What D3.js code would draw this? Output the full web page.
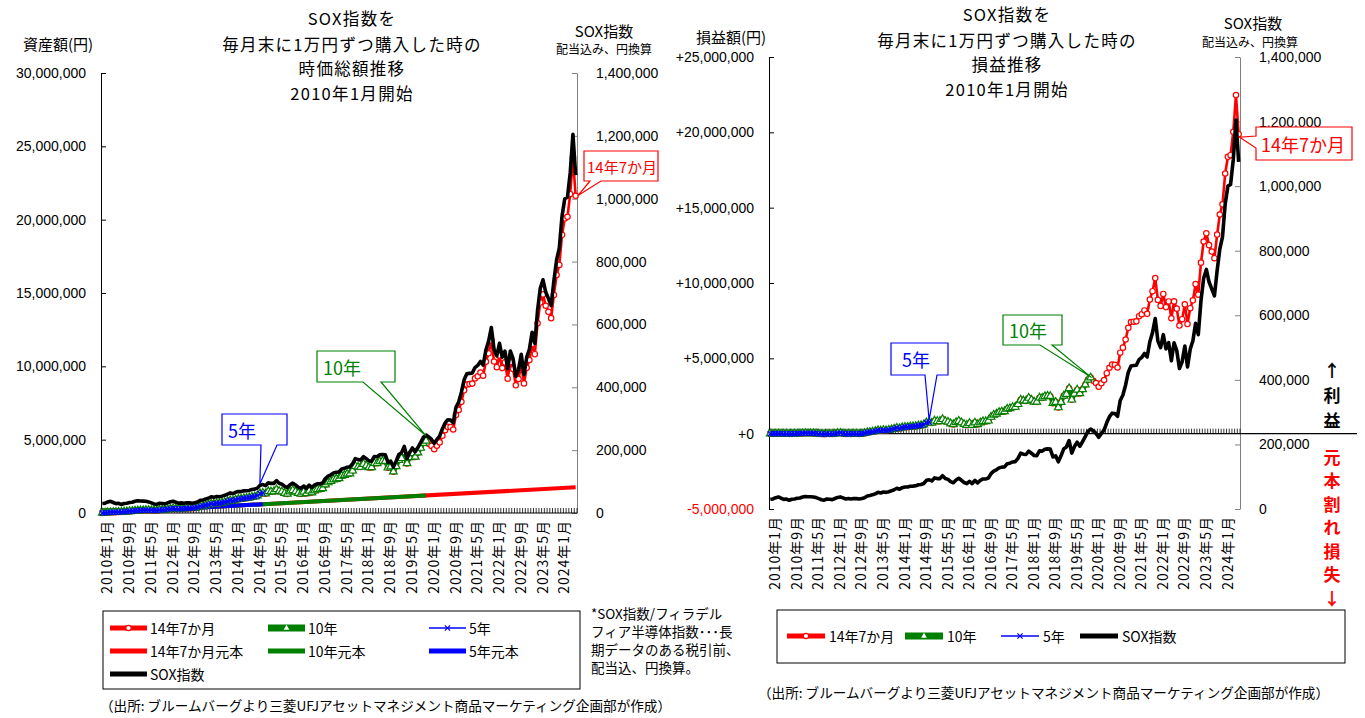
<!DOCTYPE html>
<html><head><meta charset="utf-8">
<script src="https://cdn.jsdelivr.net/npm/d3@7"></script>
<style>
body{margin:0;background:#fff;}
svg{display:block;}
</style></head><body>
<svg id="c" width="1365" height="718"></svg>
<script>
// ---------------- DATA (values in thousand yen, 千円) ----------------
// SOX index (dividends included, yen-converted), monthly 2010-01 .. 2024-07
const soxIndex = [
 30.0,31.2,35.2,37.3,33.4,29.9,30.9,27.0,30.3,31.0,33.2,34.1,
 37.2,38.8,38.1,37.8,37.4,35.3,32.1,28.8,27.4,31.0,30.0,29.0,
 32.4,35.8,37.4,34.4,31.1,32.3,31.0,32.5,32.1,31.2,32.7,35.1,
 40.4,41.6,44.4,46.9,51.6,49.8,52.4,51.5,53.6,56.3,59.7,64.2,
 61.1,66.1,68.1,68.0,70.5,70.8,71.8,75.0,76.0,79.1,88.7,90.4,
 86.9,96.4,94.2,94.2,102.9,94.6,91.7,84.8,81.2,89.8,95.1,89.0,
 82.1,78.4,85.9,78.8,88.3,81.2,88.5,93.1,93.1,95.6,109.6,117.3,
 121.4,127.4,129.7,130.5,140.0,142.0,145.8,146.7,156.6,172.8,169.8,168.8,
 179.3,172.7,165.7,165.2,180.0,179.2,185.1,186.2,185.4,161.2,164.8,146.2,
 164.7,186.2,192.1,212.0,173.1,193.5,206.9,194.5,208.4,224.0,240.5,247.8,
 242.0,234.1,222.0,234.0,244.6,267.6,286.0,296.8,295.7,286.9,336.3,353.2,
 384.3,423.7,442.9,444.2,445.4,462.8,469.5,482.0,470.7,518.3,546.3,590,
 520,500,540,496,515,459,515,491,435,456,505,440,
 495,521,575,540,645,715,742,703,682,660,738,805,
 843,945,1000,1005,1082,1205,1075];

// Market value of the monthly 10,000-yen purchases (時価総額)
const marketValue = [
 10,20,33,45,50,55,67,68,87,99,116,129,
 151,167,174,183,191,190,183,174,176,209,212,215,
 250,286,309,294,276,297,295,319,325,326,352,388,
 456,480,522,561,627,616,658,656,693,738,793,862,
 831,909,946,955,1000,1014,1039,1095,1119,1175,1328,1363,
 1320,1475,1451,1461,1606,1486,1451,1352,1304,1453,1548,1459,
 1356,1305,1440,1331,1501,1390,1525,1615,1625,1678,1934,2080,
 2163,2279,2331,2355,2536,2583,2662,2688,2880,3187,3142,3134,
 3338,3226,3105,3105,3394,3389,3510,3541,3536,3084,3163,2816,
 3183,3608,3732,4129,3381,3790,4062,3829,4112,4430,4767,4921,
 4720,4576,4349,4593,4812,5273,5646,5869,5857,5693,6683,7029,
 7579,8365,8754,8790,8823,9177,9320,9578,9363,10320,10887,11767,
 10327,9940,10744,9879,10267,9160,10288,9818,8707,9138,10130,8835,
 9898,10427,11517,10826,12941,14355,14906,14132,13719,13286,14867,16226,
 16913,18969,20083,20193,21749,24231,21626];

// Profit / loss (損益)
const profitLoss = [
 0,0,3,5,0,-5,-3,-12,-3,-1,6,9,
 21,27,24,23,21,10,-7,-26,-34,-11,-18,-25,
 0,26,39,14,-14,-3,-15,-1,-5,-14,2,28,
 86,100,132,161,217,196,228,216,243,278,323,382,
 341,409,436,435,470,474,489,535,549,595,738,763,
 710,855,821,821,956,826,781,672,614,753,838,739,
 626,565,690,571,731,610,735,815,815,858,1104,1240,
 1313,1419,1461,1475,1646,1683,1752,1768,1950,2247,2192,2174,
 2368,2246,2115,2105,2384,2369,2480,2501,2486,2024,2093,1736,
 2093,2508,2622,3009,2251,2650,2912,2669,2942,3250,3577,3721,
 3510,3356,3119,3353,3562,4013,4376,4589,4567,4393,5373,5709,
 6249,7025,7404,7430,7453,7797,7930,8178,7953,8900,9457,10327,
 8877,8480,9274,8399,8777,7660,8778,8298,7177,7598,8580,7275,
 8328,8847,9927,9226,11351,12755,13296,12512,12089,11646,13217,14546,
 15223,17269,18373,18483,20039,22471,19876];

// month index spans of each holding period
const span14y7m = [0, 174];
const span10y = [0, 119];
const span5y = [0, 59];
// principal (元本) at start / end of each span, thousand yen
const principal14y7m = [10, 1750];
const principal10y = [10, 1200];
const principal5y = [10, 600];

const tickLabels = ["2010年1月","2010年9月","2011年5月","2012年1月","2012年9月","2013年5月",
 "2014年1月","2014年9月","2015年5月","2016年1月","2016年9月","2017年5月","2018年1月",
 "2018年9月","2019年5月","2020年1月","2020年9月","2021年5月","2022年1月","2022年9月",
 "2023年5月","2024年1月"];
const assetTicks = [0,5000,10000,15000,20000,25000,30000];
const profitTicks = [-5000,0,5000,10000,15000,20000,25000];
const soxTicks = [0,200,400,600,800,1000,1200,1400];

const categories = [];
for (let y = 2010; y <= 2024; y++) for (let m = 1; m <= 12; m++)
  if (categories.length < soxIndex.length) categories.push(`${y}年${m}月`);

// ---------------- DRAWING ----------------
const JP = '"Noto Sans CJK JP","Noto Sans",sans-serif';
const NUM = '"Liberation Sans",Arial,sans-serif';
const RED = "#ff0000", GREEN = "#008000", BLUE = "#0000ff", GREY = "#808080";
const svg = d3.select("#c");
const fmt = d3.format(",");

function txt(g, x, y, s, o = {}) {
  return g.append("text").attr("x", x).attr("y", y).text(s)
    .attr("font-family", o.ff || JP).attr("font-size", o.fs || 14)
    .attr("fill", o.fill || "#000").attr("text-anchor", o.anchor || "middle")
    .attr("font-weight", o.fw || "normal")
    .attr("letter-spacing", o.ls || 0)
    .attr("dominant-baseline", "central");
}

function markerPath(kind) {
  if (kind === "tri") return d3.symbol(d3.symbolTriangle, 26)();
  return "M-2.6,-2.6L2.6,2.6M-2.6,2.6L2.6,-2.6";
}

function drawValueSeries(g, xc, y, vals, span, st) {
  const idx = d3.range(span[0], span[1] + 1);
  const line = d3.line().x(i => xc(i)).y(i => y(vals[i]));
  g.append("path").attr("d", line(idx)).attr("fill", "none")
    .attr("stroke", st.color).attr("stroke-width", st.w).attr("stroke-linejoin", "round");
  const mg = g.append("g");
  idx.forEach(i => {
    if (st.marker === "circle") {
      mg.append("circle").attr("cx", xc(i)).attr("cy", y(vals[i])).attr("r", 2.7)
        .attr("fill", "#fff").attr("stroke", st.color).attr("stroke-width", 1.2);
    } else if (st.marker === "tri") {
      mg.append("path").attr("d", markerPath("tri"))
        .attr("transform", `translate(${xc(i)},${y(vals[i])})`)
        .attr("fill", "#fff").attr("stroke", st.color).attr("stroke-width", 1.2);
    } else {
      mg.append("path").attr("d", markerPath("x"))
        .attr("transform", `translate(${xc(i)},${y(vals[i])})`)
        .attr("fill", "none").attr("stroke", st.color).attr("stroke-width", 1.2);
    }
  });
}

function drawPrincipal(g, xc, y, vals, span, color) {
  g.append("line").attr("x1", xc(span[0])).attr("x2", xc(span[1]))
    .attr("y1", y(vals[0])).attr("y2", y(vals[1]))
    .attr("stroke", color).attr("stroke-width", 4);
}

function callout(g, c) {
  let p;
  if (c.side === "bottom") {
    p = `M${c.x},${c.y}H${c.x + c.w}V${c.y + c.h}H${c.b1}L${c.tx},${c.ty}L${c.b0},${c.y + c.h}H${c.x}Z`;
  } else {
    p = `M${c.x},${c.y}H${c.x + c.w}V${c.y + c.h}H${c.x}V${c.b1}L${c.tx},${c.ty}L${c.x},${c.b0}Z`;
  }
  g.append("path").attr("d", p).attr("fill", "#fff").attr("stroke", c.color).attr("stroke-width", 1.2);
  txt(g, c.textX, c.y + c.h / 2, c.text, {fs: c.fs || 18, fill: c.color, anchor: "start"});
}

function panel(cfg) {
  const g = svg.append("g");
  const x = d3.scaleBand().domain(categories).range([cfg.x0, cfg.x1]);
  const bw = x.bandwidth();
  const xc = i => x(categories[i]) + bw / 2;
  const yL = d3.scaleLinear().domain(cfg.leftDomain).range([cfg.yBot, cfg.yTop]);
  const yR = d3.scaleLinear().domain([0, 1400]).range([cfg.yBot, cfg.yTop]);

  // left axis
  const axL = g.append("g").attr("transform", `translate(${cfg.x0},0)`)
    .call(d3.axisLeft(yL).tickValues(cfg.leftTicks).tickSize(-5).tickSizeOuter(0).tickPadding(15)
      .tickFormat(cfg.leftFmt));
  axL.selectAll("path,line").attr("stroke", "#000");
  axL.selectAll("text").attr("font-family", NUM).attr("font-size", 14)
    .attr("fill", d => d < 0 ? RED : "#000");

  // right axis
  const axR = g.append("g").attr("transform", `translate(${cfg.x1},0)`)
    .call(d3.axisRight(yR).tickValues(soxTicks).tickSize(-5).tickSizeOuter(0).tickPadding(19)
      .tickFormat(d => fmt(d * 1000)));
  axR.selectAll("path,line").attr("stroke", GREY);
  axR.selectAll("text").attr("font-family", NUM).attr("font-size", 14).attr("fill", "#000");

  // category axis line and monthly ticks
  const y0 = yL(0);
  g.append("line").attr("x1", cfg.x0).attr("x2", cfg.zeroLineEnd || cfg.x1)
    .attr("y1", y0).attr("y2", y0).attr("stroke", "#000").attr("stroke-width", 1.2);
  d3.range(categories.length + 1).forEach(k => {
    const xx = cfg.x0 + k * bw;
    g.append("line").attr("x1", xx).attr("x2", xx).attr("y1", y0).attr("y2", y0 - 5)
      .attr("stroke", "#000").attr("stroke-width", 0.8);
  });
  tickLabels.forEach(lab => {
    const i = categories.indexOf(lab);
    g.append("text").text(lab)
      .attr("transform", `translate(${xc(i) + 4},${cfg.labelY}) rotate(-90)`)
      .attr("text-anchor", "end").attr("dominant-baseline", "central")
      .attr("font-family", JP).attr("font-size", 14).attr("letter-spacing", 1).attr("fill", "#000");
  });

  // series
  const s = g.append("g");
  if (cfg.principal) {
    drawPrincipal(s, xc, yL, principal14y7m, span14y7m, RED);
    drawPrincipal(s, xc, yL, principal10y, span10y, GREEN);
    drawPrincipal(s, xc, yL, principal5y, span5y, BLUE);
  }
  drawValueSeries(s, xc, yL, cfg.values, span14y7m, {color: RED, w: 2.6, marker: "circle"});
  drawValueSeries(s, xc, yL, cfg.values, span10y, {color: GREEN, w: 4.5, marker: "tri"});
  drawValueSeries(s, xc, yL, cfg.values, span5y, {color: BLUE, w: 1.6, marker: "x"});
  const soxLine = d3.line().x((d, i) => xc(i)).y(d => yR(d));
  s.append("path").attr("d", soxLine(soxIndex)).attr("fill", "none")
    .attr("stroke", "#000").attr("stroke-width", 3.6).attr("stroke-linejoin", "round");

  return {g, xc, yL, yR};
}

const TITLE = {fs: 16.5, ls: 1.3};

// ---------- LEFT PANEL ----------
const L = panel({x0: 101, x1: 577, yTop: 73, yBot: 513, leftDomain: [0, 30000],
  leftTicks: assetTicks, leftFmt: d => fmt(d * 1000), labelY: 520,
  values: marketValue, principal: true});

txt(svg, 58, 43, "資産額(円)", {fs: 15});
[["SOX指数を", 18], ["毎月末に1万円ずつ購入した時の", 44], ["時価総額推移", 68], ["2010年1月開始", 93]]
  .forEach(([s, y]) => txt(svg, 352, y, s, TITLE));
txt(svg, 604, 30, "SOX指数", {fs: 15});
txt(svg, 604, 48, "配当込み、円換算", {fs: 12});

callout(L.g, {x: 222, y: 414, w: 65, h: 31, color: BLUE, text: "5年", textX: 228,
  side: "bottom", b0: 261, b1: 277, tx: L.xc(59) - 3, ty: L.yL(marketValue[59]) - 9});
callout(L.g, {x: 317, y: 351, w: 78, h: 31, color: GREEN, text: "10年", textX: 323,
  side: "bottom", b0: 363, b1: 381, tx: L.xc(119), ty: L.yL(marketValue[119]) - 5});
callout(L.g, {x: 584, y: 151, w: 74, h: 30, color: RED, text: "14年7か月", textX: 587, fs: 15,
  side: "bottom", b0: 590, b1: 601, tx: L.xc(174) + 2, ty: L.yL(marketValue[174])});

// ---------- RIGHT PANEL ----------
const R = panel({x0: 769, x1: 1240, yTop: 57, yBot: 509, leftDomain: [-5000, 25000],
  leftTicks: profitTicks, leftFmt: d => d === 0 ? "+0" : (d > 0 ? "+" : "-") + fmt(Math.abs(d) * 1000),
  labelY: 516, values: profitLoss, principal: false, zeroLineEnd: 1357});

txt(svg, 731, 36, "損益額(円)", {fs: 15});
[["SOX指数を", 14], ["毎月末に1万円ずつ購入した時の", 40], ["損益推移", 64], ["2010年1月開始", 89]]
  .forEach(([s, y]) => txt(svg, 1007, y, s, TITLE));
txt(svg, 1253, 22, "SOX指数", {fs: 15});
txt(svg, 1250, 41, "配当込み、円換算", {fs: 12});

callout(R.g, {x: 891, y: 343, w: 57, h: 32, color: BLUE, text: "5年", textX: 902,
  side: "bottom", b0: 925, b1: 937, tx: R.xc(59), ty: R.yL(profitLoss[59]) - 2});
callout(R.g, {x: 1003, y: 315, w: 59, h: 30, color: GREEN, text: "10年", textX: 1009,
  side: "bottom", b0: 1040, b1: 1052, tx: R.xc(119) + 1, ty: R.yL(profitLoss[119])});
callout(R.g, {x: 1256, y: 127, w: 96, h: 33, color: RED, text: "14年7か月", textX: 1261,
  side: "left", b0: 136, b1: 148, tx: R.xc(174) + 1, ty: R.yL(profitLoss[174]) + 3});

// 利益 / 元本割れ損失
["↑", "利", "益"].forEach((s, k) => txt(svg, 1332, 369 + k * 25, s, {fs: 17, fw: "bold"}));
["元", "本", "割", "れ", "損", "失", "↓"].forEach((s, k) =>
  txt(svg, 1332, 456 + k * 23.5, s, {fs: 17, fw: "bold", fill: RED}));

// ---------- LEGENDS ----------
function legendSample(g, x0, x1, y, st) {
  g.append("line").attr("x1", x0).attr("x2", x1).attr("y1", y).attr("y2", y)
    .attr("stroke", st.color).attr("stroke-width", st.w);
  const mx = (x0 + x1) / 2;
  if (st.marker === "circle") g.append("circle").attr("cx", mx).attr("cy", y).attr("r", 2.7)
    .attr("fill", "#fff").attr("stroke", st.color).attr("stroke-width", 1.2);
  if (st.marker === "tri") g.append("path").attr("d", d3.symbol(d3.symbolTriangle, 14)())
    .attr("transform", `translate(${mx},${y})`).attr("fill", "#fff").attr("stroke", "none");
  if (st.marker === "x") g.append("path").attr("d", markerPath("x"))
    .attr("transform", `translate(${mx},${y})`).attr("fill", "none").attr("stroke", st.color).attr("stroke-width", 1.2);
}
const lg = svg.append("g");
lg.append("rect").attr("x", 103).attr("y", 611).attr("width", 477).attr("height", 78)
  .attr("fill", "#fff").attr("stroke", "#000").attr("stroke-width", 1);
const leftLegend = [
  ["14年7か月", 110, 628, {color: RED, w: 5, marker: "circle"}],
  ["10年", 268, 628, {color: GREEN, w: 7, marker: "tri"}],
  ["5年", 429, 628, {color: BLUE, w: 1.6, marker: "x"}],
  ["14年7か月元本", 110, 651, {color: RED, w: 5}],
  ["10年元本", 268, 651, {color: GREEN, w: 5}],
  ["5年元本", 429, 651, {color: BLUE, w: 5}],
  ["SOX指数", 110, 674, {color: "#000", w: 5}]];
leftLegend.forEach(([s, x, y, st]) => {
  legendSample(lg, x, x + 37, y, st);
  txt(lg, x + 40, y, s, {fs: 14, anchor: "start"});
});
["*SOX指数/フィラデル", "フィア半導体指数･･･長", "期データのある税引前、", "配当込、円換算。"]
  .forEach((s, k) => txt(svg, 591, 613 + k * 18, s, {fs: 13.5, anchor: "start"}));
txt(svg, 100, 705, "（出所: ブルームバーグより三菱UFJアセットマネジメント商品マーケティング企画部が作成）",
  {fs: 13.6, anchor: "start"});

lg.append("rect").attr("x", 777).attr("y", 610).attr("width", 568).attr("height", 53)
  .attr("fill", "#fff").attr("stroke", "#000").attr("stroke-width", 1);
const rightLegend = [
  ["14年7か月", 787, {color: RED, w: 5, marker: "circle"}],
  ["10年", 905, {color: GREEN, w: 7, marker: "tri"}],
  ["5年", 1001, {color: BLUE, w: 1.6, marker: "x"}],
  ["SOX指数", 1080, {color: "#000", w: 5}]];
rightLegend.forEach(([s, x, st]) => {
  legendSample(lg, x, x + 38, 636, st);
  txt(lg, x + 42, 636, s, {fs: 14, anchor: "start"});
});
txt(svg, 758, 692, "（出所: ブルームバーグより三菱UFJアセットマネジメント商品マーケティング企画部が作成）",
  {fs: 13.6, anchor: "start"});
</script>
</body></html>
